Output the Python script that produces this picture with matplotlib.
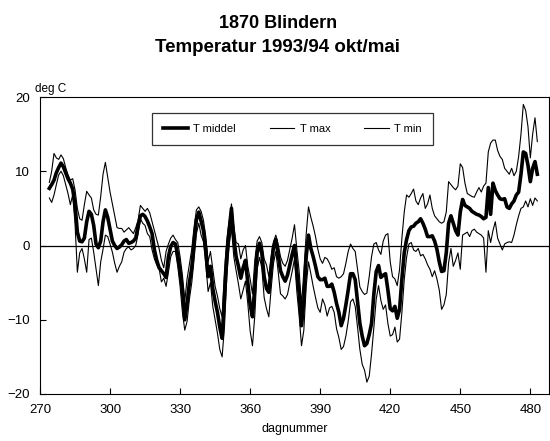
import matplotlib
matplotlib.use("Agg")
import matplotlib.pyplot as plt

# Daily temperatures at station 1870 Blindern, Oct 1993 - May 1994
first_day = 274

t_middel = [
    7.7, 8.2, 8.8, 9.8, 10.5, 11.1, 10.6, 9.8, 9.0, 8.4,
    7.6, 5.5, 1.8, 0.6, 0.5, 1.0, 3.2, 4.6, 4.2, 2.7,
    0.2, -0.3, 0.6, 3.2, 4.8, 3.8, 2.2, 0.6, 0.0, -0.4,
    -0.2, 0.1, 0.6, 0.8, 0.3, 0.4, 0.6, 1.0, 2.6, 4.0,
    4.2, 3.9, 3.3, 2.5, 1.6, -0.6, -2.0, -3.0, -3.4, -3.8,
    -4.3, -1.5, -0.1, 0.4, 0.2, -1.3, -3.5, -6.0, -10.0, -7.8,
    -5.0, -3.0, 0.5, 3.5, 4.5, 3.3, 2.0, -0.5, -4.2, -2.8,
    -5.8, -7.5, -9.0, -11.0, -12.5, -7.0, -1.5, 2.0, 5.0, 1.0,
    -1.5, -2.8, -4.4, -3.0, -2.0, -5.0, -8.0, -9.6, -5.6, -1.0,
    0.3, -1.0, -4.2, -5.8, -6.3, -3.0, -0.2, 0.8, -1.2, -3.4,
    -4.2, -4.8, -4.0, -2.6, -1.2, 0.0, -3.5, -6.5, -10.8, -7.5,
    -1.5, 1.4, -0.4, -1.5, -2.8, -4.2, -4.6, -4.6, -4.4, -5.5,
    -5.5, -5.2, -6.3, -7.8, -9.0, -10.8, -9.8, -8.0, -6.0, -3.8,
    -3.8, -4.6, -7.5, -10.5, -12.2, -13.5, -13.2, -12.0, -10.5, -6.5,
    -3.5, -2.7, -4.3, -4.0, -3.8, -6.0, -8.5, -8.8, -8.2, -9.8,
    -8.6, -4.5, -1.0, 0.8, 2.0, 2.5, 2.6, 3.0, 3.2, 3.6,
    3.0, 2.2, 1.2, 1.2, 1.3, 0.6, -0.5, -2.2, -3.5, -3.4,
    -1.0, 3.0, 4.0, 3.0, 2.0, 1.4, 4.5, 6.2, 5.4, 5.2,
    5.0, 4.6, 4.4, 4.2, 4.1, 3.9, 3.6, 3.8, 7.8, 4.2,
    8.4, 7.4, 6.8, 6.3, 6.2, 6.3, 5.2, 5.0, 5.6, 6.0,
    6.8, 7.2, 9.6, 12.6, 12.4, 10.8, 8.6, 10.4, 11.3, 9.6,
]

t_max = [
    8.5, 10.0, 12.4, 11.8, 11.6, 12.2, 11.7, 10.5, 9.5, 8.8,
    9.0, 7.5, 5.0, 3.6, 3.4, 5.5, 7.3, 6.8, 6.4, 4.8,
    4.2, 4.1, 6.6, 9.6, 11.2, 9.2, 7.2, 5.6, 4.0, 2.4,
    2.3, 2.3, 1.8, 2.1, 2.4, 2.0, 1.6, 2.4, 3.4, 5.4,
    5.0, 4.6, 5.0, 4.4, 3.2, 2.0, 0.8, -0.4, -2.0, -3.0,
    -0.8, 0.2, 1.0, 1.4, 0.8, 0.4, -1.5, -4.0, -7.5, -4.5,
    -2.5, -0.5, 2.5, 4.8, 5.2, 4.6, 3.4, 1.2, -2.2, -0.8,
    -3.2, -5.5, -6.8, -8.5, -9.6, -3.5, 0.8, 3.2, 5.6, 2.6,
    0.4, 0.2, -1.8, -0.6, 0.0, -2.8, -4.5, -6.5, -2.0, 0.6,
    1.2, 0.4, -1.8, -2.6, -4.2, -1.5, 0.5, 1.4, 0.2, -1.5,
    -2.4, -2.8, -2.0, -0.5, 1.0, 2.8, -0.5, -3.5, -8.0, -3.5,
    1.5, 5.2, 3.8, 2.6, 1.2, -0.5, -1.8, -2.4, -1.6, -1.8,
    -2.4, -3.2, -3.0, -4.2, -4.4, -4.2, -3.8, -2.4, -0.8, 0.2,
    -0.4, -0.8, -3.2, -5.6, -6.2, -6.6, -6.4, -4.2, -1.5, 0.2,
    0.4, -0.6, -1.2, 0.6, 1.4, 1.6, -2.2, -4.2, -4.5, -5.4,
    -3.2, 1.0, 4.5, 6.8, 6.5, 7.0, 7.6, 6.0, 5.5, 6.4,
    7.0, 5.0, 5.6, 6.8, 5.0, 4.0, 3.6, 3.2, 3.0, 3.2,
    4.5, 8.6, 8.2, 7.8, 7.5, 8.0, 11.0, 10.5, 8.4, 7.0,
    6.8, 6.6, 6.5, 7.2, 7.8, 7.2, 8.0, 8.4, 12.6, 13.8,
    14.2, 14.2, 12.8, 12.0, 11.6, 10.4, 10.0, 9.6, 10.4, 9.4,
    10.0, 12.0, 15.0, 19.0, 18.2, 16.0, 11.8, 15.0, 17.2, 14.0,
]

t_min = [
    6.4, 5.8, 6.8, 8.2, 9.5, 10.0, 9.4, 8.2, 7.0, 5.5,
    6.8, 3.0, -3.6, -1.0, -0.4, -1.8, -3.6, 0.8, 1.0, -0.9,
    -3.2, -5.4, -2.2, -0.5, 1.4, 1.2, 0.2, -0.9, -2.4, -3.6,
    -2.8, -2.2, -0.9, -0.4, -0.2, -0.6, -0.4, 0.0, 1.5, 3.6,
    3.0, 2.7, 1.6, 1.2, -0.6, -1.8, -2.6, -3.1, -4.9, -4.4,
    -5.5, -3.6, -1.5, -0.8, -0.8, -2.8, -5.5, -9.0, -11.4, -10.2,
    -7.2, -5.0, -1.8, 1.6, 3.0, 1.4, 0.5, -2.5, -6.2, -5.0,
    -8.2, -10.0, -11.8, -14.0, -15.0, -11.0, -4.2, 0.0, 2.4, -1.5,
    -3.4, -5.2, -7.2, -6.0, -4.8, -7.8, -11.5, -13.5, -9.4, -3.2,
    -1.6, -3.0, -7.0, -8.5, -9.6, -5.8, -2.4, -0.8, -3.5, -6.5,
    -6.8, -7.2, -6.6, -5.0, -3.5, -1.8, -6.2, -9.5, -13.5, -11.4,
    -5.5, -2.2, -3.8, -5.5, -7.0, -8.4, -9.0, -7.2, -8.0, -9.5,
    -8.4, -8.2, -9.0, -11.2, -12.4, -14.0, -13.6, -12.2, -10.2, -7.6,
    -7.2, -8.2, -11.0, -14.0, -16.0, -16.8, -18.4, -17.6, -14.6, -11.0,
    -7.2, -5.4, -7.4, -8.6, -8.0, -10.5, -12.2, -12.0, -11.0, -13.0,
    -12.6, -9.0, -4.6, -1.6, 0.2, 0.4, -0.6, -0.8, -0.4, -1.4,
    -1.2, -1.8, -2.6, -3.2, -4.2, -3.4, -4.5, -6.0, -8.6, -8.0,
    -6.6, -2.3, -0.4, -2.8, -2.0, -1.0, -3.2, 1.4, 1.6, 1.8,
    1.2, 2.0, 2.2, 1.8, 1.6, 1.4, 1.0, -3.6, 2.0, 0.4,
    2.0, 3.2, 1.0, 0.2, -0.6, 0.2, 0.4, 0.5, 0.4, 1.4,
    2.8, 4.0, 5.0, 5.2, 6.0, 5.2, 6.3, 5.4, 6.4, 6.0,
]

days = list(range(first_day, first_day + len(t_middel)))

x_ticks = [270, 300, 330, 360, 390, 420, 450, 480]
y_ticks = [-20, -10, 0, 10, 20]

plt.rcParams["font.family"] = ["Liberation Sans", "DejaVu Sans"]

fig = plt.figure(figsize=(5.5, 4.41), dpi=100)
ax = fig.add_axes([40 / 550, 1 - 394 / 441, 509 / 550, 297 / 441])

ax.axhline(0, color="black", linewidth=0.9, zorder=1)
ax.plot(days, t_middel, color="black", linewidth=2.6, label="T middel", zorder=3)
ax.plot(days, t_max, color="black", linewidth=0.8, label="T max", zorder=2)
ax.plot(days, t_min, color="black", linewidth=0.8, label="T min", zorder=2)

ax.set_xlim(270, 488)
ax.set_ylim(-20, 20)
ax.set_xticks(x_ticks)
ax.set_yticks(y_ticks)
ax.tick_params(direction="in", length=4, width=0.8, labelsize=9.5, pad=7,
               colors="black")
for s in ax.spines.values():
    s.set_linewidth(0.8)

ax.set_xlabel("dagnummer", fontsize=9, labelpad=5)
fig.text(35 / 550, 1 - 92 / 441, "deg C", fontsize=8.5, ha="left", va="baseline")

leg = ax.legend(loc="upper left", ncol=3, mode="expand",
                bbox_to_anchor=(0.22, 0.828, 0.552, 0.118),
                fontsize=8, frameon=True, fancybox=False,
                edgecolor="black", handlelength=2.2, handletextpad=0.5,
                borderpad=1.0, borderaxespad=0)
leg.get_frame().set_linewidth(0.9)

fig.text(0.505, 1 - 24 / 441, "1870 Blindern", ha="center", va="center",
         fontsize=13, fontweight="bold")
fig.text(0.505, 1 - 48 / 441, "Temperatur 1993/94 okt/mai", ha="center",
         va="center", fontsize=13.5, fontweight="bold")

fig.savefig("out.png", dpi=100)
